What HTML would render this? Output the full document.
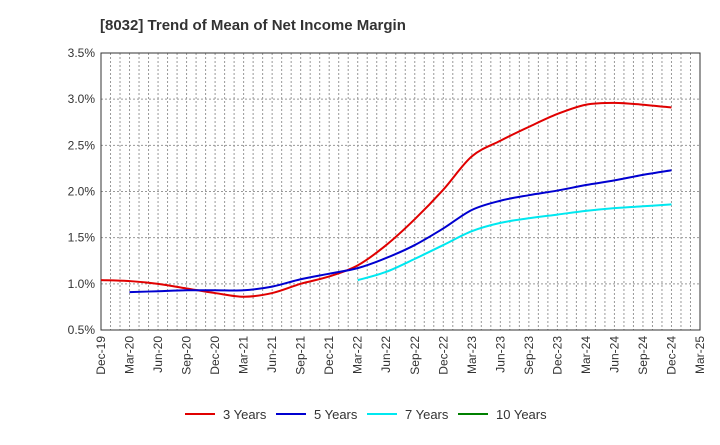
<!DOCTYPE html>
<html><head><meta charset="utf-8"><style>
body{margin:0;background:#fff;font-family:"Liberation Sans",Arial,sans-serif}
svg text{font-family:"Liberation Sans",Arial,sans-serif}
</style></head><body>
<svg width="720" height="440" xmlns="http://www.w3.org/2000/svg">
<text x="100" y="30" font-size="15" font-weight="bold" fill="#333">[8032]  Trend of Mean of Net Income Margin</text>
<g id="grid"></g><g id="axes"></g><g id="series"></g><g id="legend"></g>
</svg>
<script>
const quarterLabels=["Dec-19","Mar-20","Jun-20","Sep-20","Dec-20","Mar-21","Jun-21","Sep-21","Dec-21","Mar-22","Jun-22","Sep-22","Dec-22","Mar-23","Jun-23","Sep-23","Dec-23","Mar-24","Jun-24","Sep-24","Dec-24","Mar-25"];
const yTicks=[0.5,1.0,1.5,2.0,2.5,3.0,3.5];
const s3=[1.04,1.03,1.00,0.95,0.90,0.86,0.90,1.00,1.08,1.20,1.42,1.70,2.02,2.38,2.55,2.70,2.84,2.94,2.96,2.94,2.91];
const s5=[null,0.91,0.92,0.93,0.93,0.93,0.97,1.05,1.11,1.17,1.28,1.42,1.60,1.80,1.90,1.96,2.01,2.07,2.12,2.18,2.23];
const s7=[null,null,null,null,null,null,null,null,null,1.04,1.13,1.27,1.42,1.57,1.66,1.71,1.75,1.79,1.82,1.84,1.86];
const s10=[];
const seriesNames=["3 Years","5 Years","7 Years","10 Years"];
const seriesColors=["#e00000","#0000d0","#00e8f0","#008000"];
const NS="http://www.w3.org/2000/svg";
const L=101,R=700,T=53,B=330;
const x=q=>L+(R-L)*q/21;
const y=v=>B-(v-0.5)/3*(B-T);
function mk(tag,attrs,parent){const e=document.createElementNS(NS,tag);for(const k in attrs)e.setAttribute(k,attrs[k]);parent.appendChild(e);return e;}
const grid=document.getElementById('grid'),axes=document.getElementById('axes'),ser=document.getElementById('series'),leg=document.getElementById('legend');
for(let m=1;m<63;m++){const xx=L+(R-L)*m/63;const g=mk('line',{x1:xx,x2:xx,y1:T,y2:B,stroke:'#999','stroke-dasharray':'2,2','stroke-width':1},grid);

}
yTicks.forEach(v=>{const yy=y(v);const g=mk('line',{x1:L,x2:R,y1:yy,y2:yy,stroke:'#999','stroke-dasharray':'2,2','stroke-width':1},grid);


const t=mk('text',{x:L-6,y:yy+4,'text-anchor':'end','font-size':12,fill:'#333'},axes);t.textContent=v.toFixed(1)+'%';

});
const fr=mk('rect',{x:L,y:T,width:R-L,height:B-T,fill:'none',stroke:'#333','stroke-width':1},axes);


quarterLabels.forEach((lab,i)=>{const xx=x(i);const t=mk('text',{transform:`translate(${xx+4},${B+6}) rotate(-90)`,'text-anchor':'end','font-size':12,fill:'#333'},axes);t.textContent=lab;

});
function path(arr){const pts=[];arr.forEach((v,i)=>{if(v!=null)pts.push([x(i),y(v)]);});if(pts.length<2)return '';
let d=`M${pts[0][0]},${pts[0][1]}`;for(let i=0;i<pts.length-1;i++){const p0=pts[i-1]||pts[i],p1=pts[i],p2=pts[i+1],p3=pts[i+2]||p2;
d+=` C${p1[0]+(p2[0]-p0[0])/6},${p1[1]+(p2[1]-p0[1])/6} ${p2[0]-(p3[0]-p1[0])/6},${p2[1]-(p3[1]-p1[1])/6} ${p2[0]},${p2[1]}`;}return d;}
[s3,s5,s7,s10].forEach((arr,i)=>{const d=path(arr);if(!d)return;const p=mk('path',{d:d,fill:'none',stroke:seriesColors[i],'stroke-width':2},ser);

});
const lx=[185,276,367,458];
seriesNames.forEach((n,i)=>{const g=mk('g',{},leg);


mk('line',{x1:lx[i],x2:lx[i]+30,y1:414,y2:414,stroke:seriesColors[i],'stroke-width':2},g);
const t=mk('text',{x:lx[i]+38,y:419,'font-size':13,fill:'#333'},g);t.textContent=n;});
</script>
</body></html>
